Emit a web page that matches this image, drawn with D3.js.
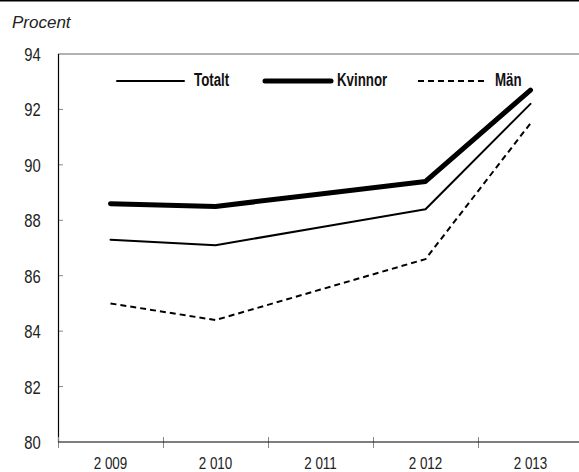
<!DOCTYPE html>
<html>
<head>
<meta charset="utf-8">
<script src="https://cdn.jsdelivr.net/npm/d3@7"></script>
<style>
  html, body { margin: 0; padding: 0; background: #fff; }
  svg { display: block; }
</style>
</head>
<body>
<svg id="chart" width="579" height="472"></svg>
<script>
const years = ["2 009", "2 010", "2 011", "2 012", "2 013"];
const totalt = [87.3, 87.1, 87.75, 88.4, 92.2];
const kvinnor = [88.6, 88.5, 88.95, 89.4, 92.7];
const man = [85.0, 84.4, 85.5, 86.6, 91.5];
const yTicks = [80, 82, 84, 86, 88, 90, 92, 94];
const seriesNames = ["Totalt", "Kvinnor", "Män"];

(function () {
const W = 579, H = 472;
const mLeft = 58, mRight = 583, mTop = 54, mBottom = 442;
const font = "'Liberation Sans', Arial, sans-serif";

const svg = d3.select("#chart");

const x = d3.scaleBand().domain(years).range([mLeft, mRight]);
const y = d3.scaleLinear().domain([80, 94]).range([mBottom, mTop]);

// top rule
svg.append("line").attr("x1", 0).attr("x2", W).attr("y1", 0.75).attr("y2", 0.75)
  .attr("stroke", "#000").attr("stroke-width", 1.5);

svg.append("text").attr("x", 12).attr("y", 28)
  .attr("font-family", font)
  .attr("font-style", "italic").attr("font-size", 17).attr("fill", "#222")
  .text("Procent");

// plot top border (grey)
svg.append("line").attr("x1", mLeft).attr("x2", W).attr("y1", y(94)).attr("y2", y(94))
  .attr("stroke", "#666").attr("stroke-width", 1);

// y axis
const yAxis = d3.axisLeft(y).tickValues(yTicks).tickSize(0).tickPadding(0);
const gy = svg.append("g").attr("transform", `translate(${mLeft},0)`).call(yAxis);
gy.select(".domain").remove();
gy.selectAll("text").attr("x", 0).attr("dy", "0.35em")
  .attr("transform", `translate(-17.3,0) scale(0.8,1)`)
  .attr("text-anchor", "end")
  .attr("font-family", font).attr("font-size", 18.5).attr("fill", "#222");
svg.append("g").selectAll("line").data(yTicks.filter(v => v > 80 && v < 94)).join("line")
  .attr("x1", mLeft).attr("x2", mLeft + 5)
  .attr("y1", d => y(d)).attr("y2", d => y(d))
  .attr("stroke", "#888").attr("stroke-width", 1);

svg.append("line").attr("x1", mLeft + 0.5).attr("x2", mLeft + 0.5).attr("y1", mTop).attr("y2", mBottom)
  .attr("stroke", "#000").attr("stroke-width", 1.2);

// x axis
const xAxis = d3.axisBottom(x).tickSize(0).tickPadding(0);
const gx = svg.append("g").attr("transform", `translate(0,${mBottom})`).call(xAxis);
gx.select(".domain").remove();
gx.selectAll("text").attr("y", 0).attr("dy", 0)
  .attr("transform", `translate(0,26.8) scale(0.84,1)`)
  .attr("font-family", font).attr("font-size", 16).attr("fill", "#222");
const bounds = years.map(d => x(d));
svg.append("g").selectAll("line").data(bounds).join("line")
  .attr("x1", d => d + 0.5).attr("x2", d => d + 0.5)
  .attr("y1", mBottom - 5).attr("y2", mBottom + 6)
  .attr("stroke", "#888").attr("stroke-width", 1);
svg.append("line").attr("x1", mLeft).attr("x2", W).attr("y1", mBottom).attr("y2", mBottom)
  .attr("stroke", "#000").attr("stroke-width", 1.2);

// series
const cx = d => x(d) + x.bandwidth() / 2;
const line = d3.line().x((v, i) => cx(years[i])).y(v => y(v));
const styles = [
  { data: totalt, w: 2, dash: null },
  { data: kvinnor, w: 5, dash: null },
  { data: man, w: 2, dash: "6,4" }
];
styles.forEach(s => {
  svg.append("path").attr("d", line(s.data)).attr("fill", "none")
    .attr("stroke", "#000").attr("stroke-width", s.w)
    .attr("stroke-linecap", s.dash ? "butt" : "round")
    .attr("stroke-linejoin", "round")
    .attr("stroke-dasharray", s.dash);
});

// legend
const legY = 81;
const legItems = [
  { x1: 117, x2: 184, tx: 194 },
  { x1: 265, x2: 331, tx: 337 },
  { x1: 418, x2: 487, tx: 495 }
];
legItems.forEach((l, i) => {
  const s = styles[i];
  svg.append("line").attr("x1", l.x1).attr("x2", l.x2).attr("y1", legY).attr("y2", legY)
    .attr("stroke", "#000").attr("stroke-width", s.w)
    .attr("stroke-linecap", s.dash ? "butt" : "round")
    .attr("stroke-dasharray", s.dash);
  svg.append("text").attr("x", 0).attr("y", 0).attr("dy", "0.36em")
    .attr("transform", `translate(${l.tx},${legY - 2}) scale(0.72,1)`)
    .attr("font-family", font).attr("font-weight", "bold").attr("font-size", 18.5)
    .attr("fill", "#111").text(seriesNames[i]);
});
})();
</script>
</body>
</html>
